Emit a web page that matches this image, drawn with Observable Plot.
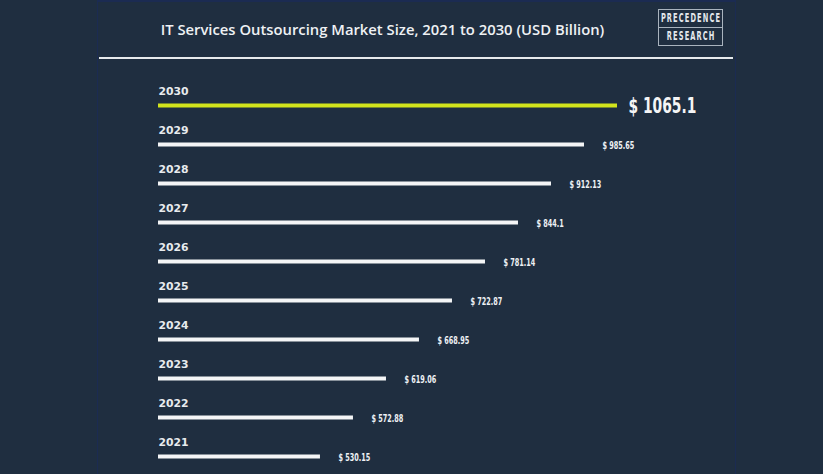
<!DOCTYPE html>
<html>
<head>
<meta charset="utf-8">
<script src="https://cdn.jsdelivr.net/npm/d3@7"></script>
<script src="https://cdn.jsdelivr.net/npm/@observablehq/plot@0.6"></script>
<style>
  html, body { margin: 0; padding: 0; background: #1f2e40; }
  #wrap { position: relative; width: 823px; height: 474px; background: #1f2e40; overflow: hidden; }
  #panel { position: absolute; left: 97px; top: 0; width: 637px; height: 474px;
           border-left: 1px solid #1b2b52; border-right: 1px solid #1b2b52; border-top: 2px solid #1b2b52; }
  #title { position: absolute; left: 0; width: 765px; top: 19px; text-align: center;
           font-family: "Open Sans", sans-serif; font-weight: 600; font-size: 14.8px; color: #eef1f4; }
  #rule { position: absolute; left: 99px; width: 634px; top: 57px; height: 2px; background: #e6e9ec; }
  #logo { position: absolute; left: 658px; top: 9px; width: 63px; height: 35px; border: 1px solid #a9b3be;
          font-family: "DejaVu Sans", sans-serif;
          color: #e4e8ec; font-size: 9px; font-weight: 600; letter-spacing: 1.5px; }
  #logo div { height: 17px; line-height: 17px; display: flex; justify-content: center; white-space: nowrap; }
  #logo span { display: inline-block; flex: none; transform: scale(0.74, 1.45); transform-origin: center; padding-left: 1.5px; }
  #logo div:first-child { border-bottom: 1px solid #a9b3be; }
  #chart { position: absolute; left: 0; top: 60px; }
</style>
</head>
<body>
<div id="wrap">
  <div id="panel"></div>
  <div id="title">IT Services Outsourcing Market Size, 2021 to 2030 (USD Billion)</div>
  <div id="rule"></div>
  <div id="logo"><div><span>PRECEDENCE</span></div><div><span>RESEARCH</span></div></div>
  <div id="chart"></div>
</div>
<script>
const years = [2030, 2029, 2028, 2027, 2026, 2025, 2024, 2023, 2022, 2021];
const values = [1065.1, 985.65, 912.13, 844.1, 781.14, 722.87, 668.95, 619.06, 572.88, 530.15];
const labels = ["$ 1065.1", "$ 985.65", "$ 912.13", "$ 844.1", "$ 781.14", "$ 722.87", "$ 668.95", "$ 619.06", "$ 572.88", "$ 530.15"];
const baseline = 362.4;

const rows = years.map((y, i) => ({year: String(y), value: values[i], label: labels[i], highlight: i === 0}));
const restRows = rows.filter(d => !d.highlight);
const topRows = rows.filter(d => d.highlight);

const labelFont = "'DejaVu Sans', sans-serif";

const chart = Plot.plot({
  width: 823,
  height: 414,
  marginLeft: 158,
  marginRight: 206,
  marginTop: 42,
  marginBottom: 16,
  style: {background: "transparent", overflow: "visible"},
  x: {type: "log", domain: [baseline, 1065.1], axis: null},
  y: {type: "point", domain: years.map(String), padding: 0, axis: null},
  marks: [
    Plot.ruleY(rows, {y: "year", x1: () => baseline, x2: "value",
      stroke: d => d.highlight ? "#d2e31c" : "#f4f5f6", strokeWidth: 4}),
    Plot.text(rows, {y: "year", x: () => baseline, text: "year", dy: -14, textAnchor: "start",
      fill: "#e8ebee", fontSize: 10.8, fontWeight: "bold", fontFamily: labelFont}),
    Plot.text(restRows, {y: "year", x: "value", text: "label", dx: 18, dy: 1, textAnchor: "start",
      fill: "#eef1f4", fontSize: 10.5, fontWeight: "bold", fontFamily: labelFont}),
    Plot.text(topRows, {y: "year", x: "value", text: "label", dx: 11, dy: 1, textAnchor: "start",
      fill: "#f4f5f6", fontSize: 21, fontWeight: "bold", fontFamily: labelFont})
  ]
});
document.getElementById("chart").appendChild(chart);

// condense the value labels horizontally about their left edge (no condensed font installed)
const groups = chart.querySelectorAll('g[aria-label="text"]');
function condense(g, sx) {
  if (!g) return;
  g.querySelectorAll("text").forEach(t => {
    const bx = t.getBBox().x;
    const tr = t.getAttribute("transform") || "";
    t.setAttribute("transform", `${tr} translate(${bx},0) scale(${sx},1) translate(${-bx},0)`);
  });
}
condense(groups[1], 0.62);
condense(groups[2], 0.66);
</script>
</body>
</html>
